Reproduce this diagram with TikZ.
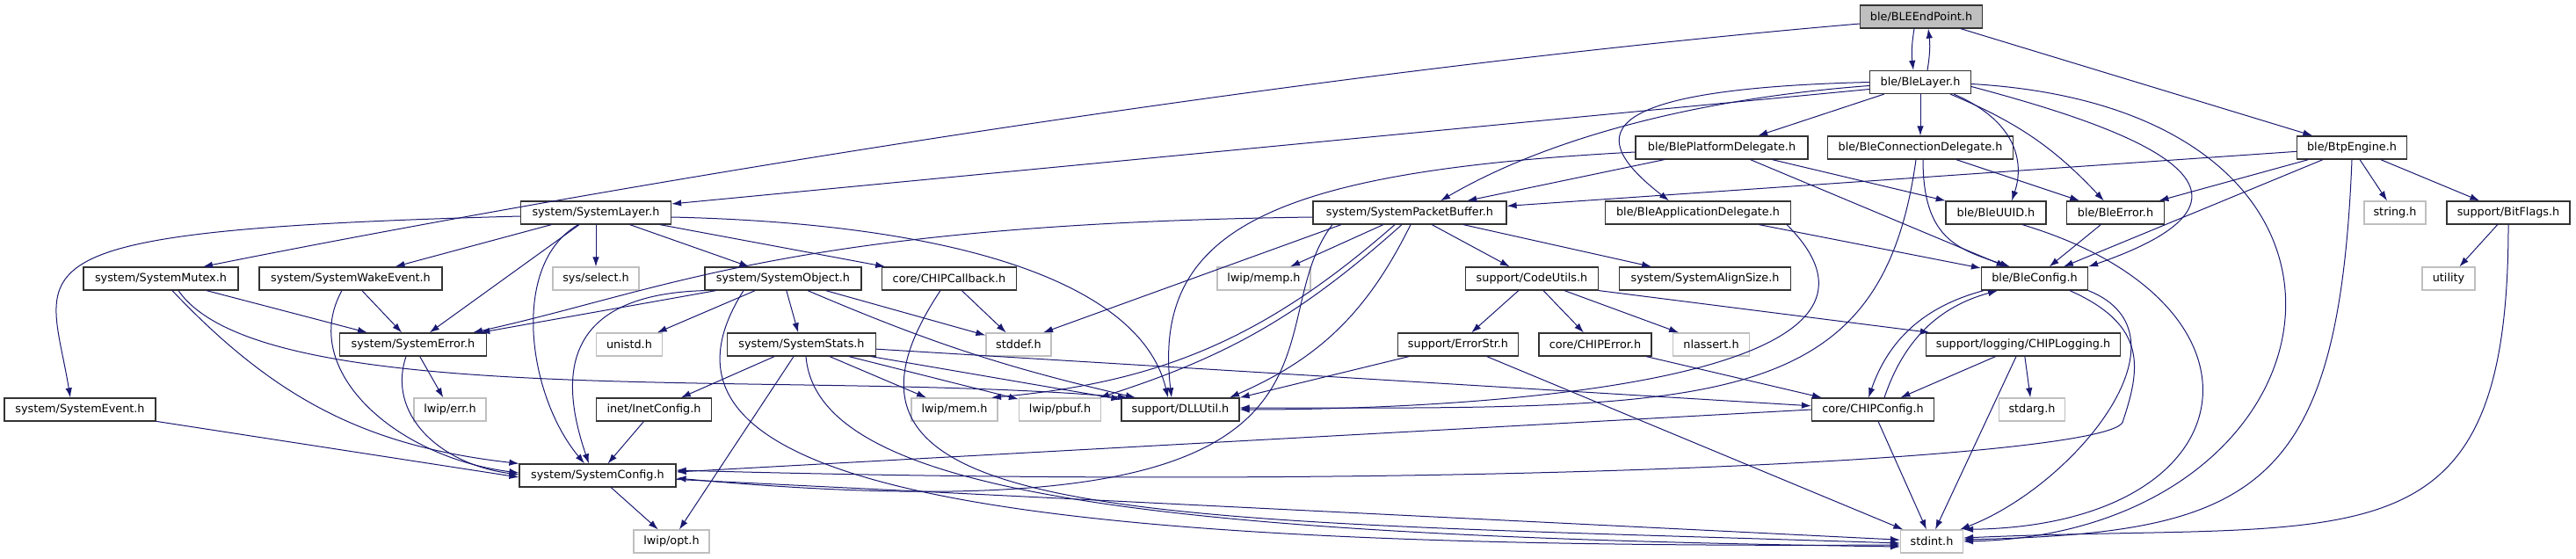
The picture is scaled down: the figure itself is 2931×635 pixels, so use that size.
\documentclass[tikz,border=0pt]{standalone}
\usepackage{fontspec}
\setmainfont{DejaVu Sans}
\usetikzlibrary{arrows.meta}
\definecolor{dxEdge}{HTML}{191970}
\definecolor{dxGrey}{HTML}{BFBFBF}

\begin{document}
\begin{tikzpicture}[x=1pt, y=1pt,
    every node/.style={font=\fontsize{12.8}{15}\selectfont, minimum height=26pt, inner sep=2pt},
    hdr/.style={draw=black!80, line width=1.2pt, fill=white},
    sysinc/.style={draw=dxGrey, line width=1.2pt, fill=white},
    curfile/.style={draw=black!80, line width=1.2pt, fill=dxGrey},
    incl/.style={dxEdge, line width=1pt, -{Latex[length=11pt, width=7.5pt]}}]
    \useasboundingbox (0,0) rectangle (2931,-635);

    % files of the include graph
    \node[curfile, minimum width=139pt] (ep) at (2186,-19) {ble/BLEEndPoint.h};
    \node[hdr, minimum width=115pt] (layer) at (2185,-93.5) {ble/BleLayer.h};
    \node[hdr, minimum width=196pt] (platdel) at (1959,-168) {ble/BlePlatformDelegate.h};
    \node[hdr, minimum width=211pt] (conndel) at (2185,-168) {ble/BleConnectionDelegate.h};
    \node[hdr, minimum width=125pt] (btp) at (2676,-168) {ble/BtpEngine.h};
    \node[hdr, minimum width=171pt] (syslayer) at (678,-242) {system/SystemLayer.h};
    \node[hdr, minimum width=220pt] (spb) at (1604,-242) {system/SystemPacketBuffer.h};
    \node[hdr, minimum width=211pt] (appdel) at (1932,-242) {ble/BleApplicationDelegate.h};
    \node[hdr, minimum width=114pt] (uuid) at (2271,-242) {ble/BleUUID.h};
    \node[hdr, minimum width=111pt] (bleerr) at (2407,-242) {ble/BleError.h};
    \node[sysinc, minimum width=70pt] (stringh) at (2725,-242) {string.h};
    \node[hdr, minimum width=140pt] (bitflags) at (2854,-242) {support/BitFlags.h};
    \node[hdr, minimum width=176pt] (mutex) at (183,-317) {system/SystemMutex.h};
    \node[hdr, minimum width=208pt] (wake) at (399,-317) {system/SystemWakeEvent.h};
    \node[sysinc, minimum width=98pt] (select) at (678,-317) {sys/select.h};
    \node[hdr, minimum width=178pt] (sysobj) at (891,-317) {system/SystemObject.h};
    \node[hdr, minimum width=153pt] (callback) at (1080,-317) {core/CHIPCallback.h};
    \node[sysinc, minimum width=106pt] (memp) at (1438,-317) {lwip/memp.h};
    \node[hdr, minimum width=151pt] (codeutils) at (1743,-317) {support/CodeUtils.h};
    \node[hdr, minimum width=195pt] (align) at (1940,-317) {system/SystemAlignSize.h};
    \node[hdr, minimum width=121pt] (bleconfig) at (2315,-317) {ble/BleConfig.h};
    \node[sysinc, minimum width=60pt] (utility) at (2786,-317) {utility};
    \node[hdr, minimum width=167pt] (syserr) at (470,-392) {system/SystemError.h};
    \node[sysinc, minimum width=75pt] (unistd) at (716,-392) {unistd.h};
    \node[hdr, minimum width=169pt] (stats) at (912,-392) {system/SystemStats.h};
    \node[sysinc, minimum width=74pt] (stddef) at (1159,-392) {stddef.h};
    \node[hdr, minimum width=137pt] (errstr) at (1659,-392) {support/ErrorStr.h};
    \node[hdr, minimum width=128pt] (chiperr) at (1815,-392) {core/CHIPError.h};
    \node[sysinc, minimum width=87pt] (nlassert) at (1947,-392) {nlassert.h};
    \node[hdr, minimum width=221pt] (logging) at (2302,-392) {support/logging/CHIPLogging.h};
    \node[hdr, minimum width=172pt] (sysevent) at (91,-466) {system/SystemEvent.h};
    \node[sysinc, minimum width=82pt] (lwiperr) at (512,-466) {lwip/err.h};
    \node[hdr, minimum width=131pt] (inetcfg) at (744,-466) {inet/InetConfig.h};
    \node[sysinc, minimum width=98pt] (lwipmem) at (1086,-466) {lwip/mem.h};
    \node[sysinc, minimum width=93pt] (lwippbuf) at (1206,-466) {lwip/pbuf.h};
    \node[hdr, minimum width=134pt] (dllutil) at (1343,-466) {support/DLLUtil.h};
    \node[hdr, minimum width=139pt] (chipcfg) at (2131,-466) {core/CHIPConfig.h};
    \node[sysinc, minimum width=75pt] (stdarg) at (2312,-466) {stdarg.h};
    \node[hdr, minimum width=178pt] (syscfg) at (680,-541) {system/SystemConfig.h};
    \node[sysinc, minimum width=86pt] (opt) at (764,-616) {lwip/opt.h};
    \node[sysinc, minimum width=71pt] (stdint) at (2198,-616) {stdint.h};

    % ble/BLEEndPoint.h
    \draw[incl] ([xshift=-8pt]ep.south) to[bend right=8] ([xshift=-8pt]layer.north);
    \draw[incl] ([xshift=8pt]layer.north) to[bend right=8] ([xshift=8pt]ep.south);
    \draw[incl] (ep) -- (btp);
    \draw[incl] ([yshift=-8pt]ep.west) .. controls +(-700,-60) and +(400,80) .. ([xshift=48pt]mutex.north);

    % ble/BleLayer.h
    \draw[incl] ([yshift=-8pt]layer.west) -- ([yshift=10pt]syslayer.east);
    \draw[incl] ([yshift=-4pt]layer.west) .. controls +(-200,-15) and +(120,70) .. ([xshift=35pt]spb.north);
    \draw[incl] (layer.west) .. controls +(-330,-8) and +(-90,70) .. ([xshift=-33pt]appdel.north);
    \draw[incl] (layer) -- (platdel);
    \draw[incl] (layer) -- (conndel);
    \draw[incl] ([xshift=38pt]layer.south) .. controls +(70,-30) and +(15,45) .. ([xshift=18pt]uuid.north);
    \draw[incl] (layer) to[bend left=12] (bleerr);
    \draw[incl] ([yshift=-5pt]layer.east) .. controls +(150,-40) and +(260,90) .. (bleconfig.north east);
    \draw[incl] ([yshift=-2pt]layer.east) .. controls +(520,-30) and +(440,10) .. (stdint.east);

    % ble delegates and ble/BtpEngine.h
    \draw[incl] (platdel) -- (spb);
    \draw[incl] ([yshift=-5pt]platdel.west) .. controls +(-411,-22) and +(-23,193) .. ([xshift=-10pt]dllutil.north);
    \draw[incl] (platdel) -- (uuid);
    \draw[incl] (platdel) -- (bleconfig);
    \draw[incl] ([xshift=-5pt]conndel.south) .. controls +(-40,-289) and +(540,-1) .. ([yshift=2pt]dllutil.east);
    \draw[incl] (conndel) -- (bleerr);
    \draw[incl] ([xshift=3pt]conndel.south) .. controls +(0,-90) and +(-60,20) .. ([xshift=-28pt]bleconfig.north);
    \draw[incl] (appdel) -- (bleconfig);
    \draw[incl] ([xshift=-5pt]appdel.south east) to[out=-45, in=0] (dllutil.east);
    \draw[incl] (btp) -- (spb);
    \draw[incl] (btp) -- (bleerr);
    \draw[incl] (btp) -- (bleconfig);
    \draw[incl] (btp) -- (stringh);
    \draw[incl] (btp) -- (bitflags);
    \draw[incl] (btp.south) .. controls +(-15,-380) and +(330,8) .. ([yshift=2pt]stdint.east);
    \draw[incl] (bitflags) -- (utility);
    \draw[incl] (bitflags.south) .. controls +(0,-400) and +(450,20) .. ([yshift=4pt]stdint.east);
    \draw[incl] ([xshift=30pt]uuid.south) .. controls +(300,-90) and +(330,5) .. (stdint.north east);
    \draw[incl] (bleerr) -- (bleconfig);

    % system/SystemLayer.h
    \draw[incl] ([yshift=-4pt]syslayer.west) .. controls +(-603,-16) and +(-25,153) .. ([xshift=-11pt]sysevent.north);
    \draw[incl] (syslayer) -- (wake);
    \draw[incl] (syslayer) -- (syserr);
    \draw[incl] ([xshift=-20pt]syslayer.south) .. controls +(-78,-45) and +(-65,78) .. ([xshift=-15pt]syscfg.north);
    \draw[incl] (syslayer) -- (select);
    \draw[incl] (syslayer) -- (sysobj);
    \draw[incl] (syslayer) -- (callback);
    \draw[incl] ([yshift=-5pt]syslayer.east) .. controls +(347,-8) and +(-29,123) .. ([xshift=-14pt]dllutil.north);

    % system/SystemPacketBuffer.h
    \draw[incl] ([yshift=-5pt]spb.west) .. controls +(-594,-8) and +(222,49) .. ([xshift=68pt]syserr.north);
    \draw[incl] (spb) -- (memp);
    \draw[incl] ([xshift=-78pt]spb.south) -- ([xshift=28pt]stddef.north);
    \draw[incl] ([xshift=-17pt]spb.south) to[bend left=18] ([xshift=42pt]lwipmem.north);
    \draw[incl] ([xshift=-9pt]spb.south) to[bend left=12] ([xshift=45pt]lwippbuf.north);
    \draw[incl] ([xshift=1pt]spb.south) to[bend left=20] ([xshift=56pt]dllutil.north);
    \draw[incl] ([xshift=-88pt]spb.south) .. controls +(-96,-125) and +(831,-76) .. ([yshift=-3pt]syscfg.east);
    \draw[incl] (spb) -- (codeutils);
    \draw[incl] (spb) -- (align);

    % system/SystemMutex.h, system/SystemWakeEvent.h
    \draw[incl] (mutex) -- (syserr);
    \draw[incl] ([xshift=13pt]mutex.south) to[bend right=20] (syscfg.north west);
    \draw[incl] ([xshift=20pt]mutex.south) .. controls +(97,-140) and +(-383,33) .. ([xshift=-60pt]dllutil.north);
    \draw[incl] (wake) -- (syserr);
    \draw[incl] ([xshift=-10pt]wake.south) .. controls +(-50,-90) and +(-141,18) .. ([yshift=3pt]syscfg.west);

    % system/SystemObject.h, core/CHIPCallback.h, system/SystemStats.h
    \draw[incl] (sysobj) -- (syserr);
    \draw[incl] (sysobj) -- (unistd);
    \draw[incl] (sysobj) -- (stats);
    \draw[incl] (sysobj) -- (stddef);
    \draw[incl] ([xshift=28pt]sysobj.south) to[bend right=5] ([xshift=-51pt]dllutil.north);
    \draw[incl] (sysobj.south west) .. controls +(-172,-5) and +(-30,88) .. ([xshift=-10pt]syscfg.north);
    \draw[incl] ([xshift=-45pt]sysobj.south) .. controls +(-146,-230) and +(-1012,-5) .. ([yshift=-4pt]stdint.west);
    \draw[incl] (callback) -- (stddef);
    \draw[incl] ([xshift=-10pt]callback.south) .. controls +(-180,-270) and +(-862,28) .. ([yshift=-2pt]stdint.west);
    \draw[incl] (stats) -- (inetcfg);
    \draw[incl] (stats) -- (opt);
    \draw[incl] (stats) -- (lwipmem);
    \draw[incl] (stats) -- (lwippbuf);
    \draw[incl] (stats) -- (dllutil);
    \draw[incl] (stats) -- (chipcfg);
    \draw[incl] ([xshift=5pt]stats.south) .. controls +(13,-155) and +(-862,12) .. ([yshift=-6pt]stdint.west);

    % support/CodeUtils.h and below
    \draw[incl] (codeutils) -- (errstr);
    \draw[incl] (codeutils) -- (chiperr);
    \draw[incl] (codeutils) -- (nlassert);
    \draw[incl] (codeutils.south east) -- ([xshift=5pt]logging.north west);
    \draw[incl] (errstr) -- (dllutil.north east);
    \draw[incl] (errstr) -- (stdint);
    \draw[incl] (chiperr) -- (chipcfg);
    \draw[incl] (logging) -- (chipcfg);
    \draw[incl] (logging) -- (stdarg);
    \draw[incl] ([xshift=-8pt]logging.south) -- ([xshift=4pt]stdint.north);

    % ble/BleConfig.h, core/CHIPConfig.h
    \draw[incl] ([xshift=-58pt]bleconfig.south) to[bend right=28] ([xshift=-5pt]chipcfg.north);
    \draw[incl] ([xshift=13pt]chipcfg.north) to[bend left=28] ([xshift=-42pt]bleconfig.south);
    \draw[incl] ([xshift=40pt]bleconfig.south) .. controls +(90,-40) and +(20,60) .. ++(60,-150)
        .. controls +(-20,-40) and +(900,-25) .. ([yshift=6pt]syscfg.east);
    \draw[incl] (bleconfig.south east) .. controls +(125,-50) and +(130,50) .. ([xshift=-4pt]stdint.north east);
    \draw[incl] (chipcfg.west) -- ([yshift=4pt]syscfg.east);
    \draw[incl] (chipcfg) -- (stdint);

    % remaining system headers
    \draw[incl] (syserr) -- (lwiperr);
    \draw[incl] ([xshift=-8pt]syserr.south) .. controls +(-22,-65) and +(-91,12) .. ([yshift=1pt]syscfg.west);
    \draw[incl] (sysevent) -- ([yshift=-2pt]syscfg.west);
    \draw[incl] (inetcfg) -- (syscfg);
    \draw[incl] (syscfg) -- (opt);
    \draw[incl] (syscfg) -- (stdint);
\end{tikzpicture}
\end{document}
